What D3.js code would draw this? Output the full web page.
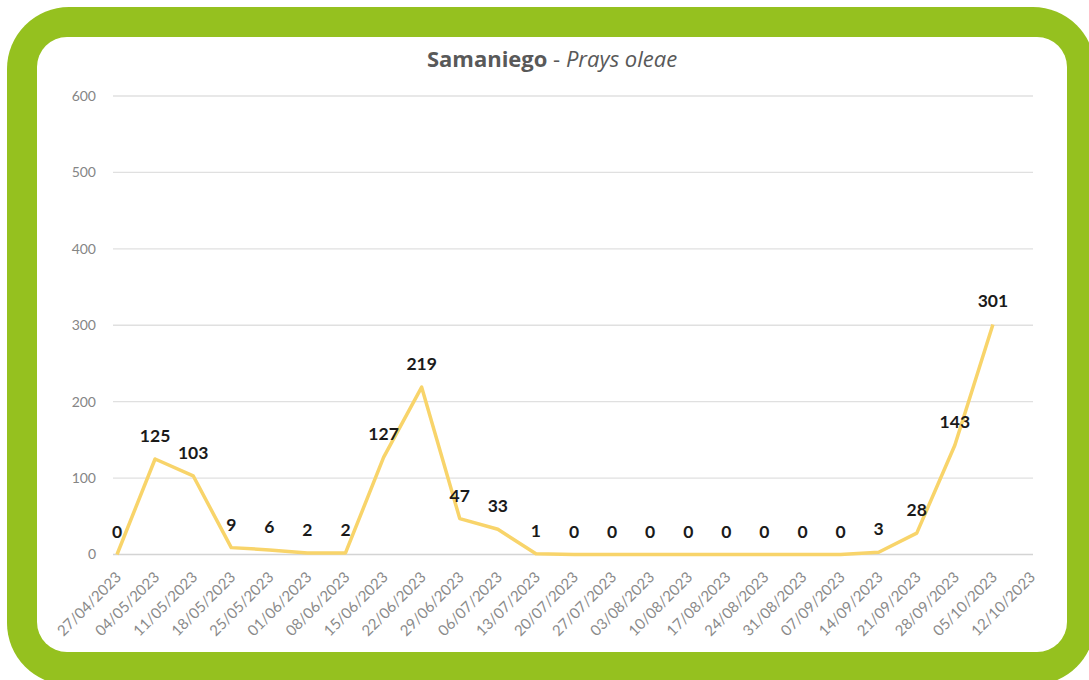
<!DOCTYPE html>
<html>
<head>
<meta charset="utf-8">
<title>Samaniego - Prays oleae</title>
<script src="https://cdnjs.cloudflare.com/ajax/libs/d3/7.8.5/d3.min.js"></script>
<style>
  body { margin: 0; background: #fff; }
  svg { display: block; font-family: Lato, "Open Sans", sans-serif; }
</style>
</head>
<body>
<script>
  // weekly trap counts
  var dates = ["27/04/2023","04/05/2023","11/05/2023","18/05/2023","25/05/2023","01/06/2023",
               "08/06/2023","15/06/2023","22/06/2023","29/06/2023","06/07/2023","13/07/2023",
               "20/07/2023","27/07/2023","03/08/2023","10/08/2023","17/08/2023","24/08/2023",
               "31/08/2023","07/09/2023","14/09/2023","21/09/2023","28/09/2023","05/10/2023",
               "12/10/2023"];
  var counts = [0,125,103,9,6,2,2,127,219,47,33,1,0,0,0,0,0,0,0,0,3,28,143,301,null];
  var yTicks = [0,100,200,300,400,500,600];

  var width = 1089, height = 680;
  var margin = {top: 96, right: 56, bottom: 125, left: 117};

  var svg = d3.select("body").append("svg")
      .attr("width", width)
      .attr("height", height);

  // green frame + white card
  svg.append("rect")
      .attr("x", 7).attr("y", 7)
      .attr("width", 1088).attr("height", 678)
      .attr("rx", 62)
      .attr("fill", "#95c11f");
  svg.append("rect")
      .attr("x", 37).attr("y", 37)
      .attr("width", 1030).attr("height", 615)
      .attr("rx", 30)
      .attr("fill", "#ffffff");

  var x = d3.scalePoint()
      .domain(dates)
      .range([margin.left, width - margin.right - 2]);

  var y = d3.scaleLinear()
      .domain([0, 600])
      .range([height - margin.bottom - 0.5, margin.top]);

  // gridlines
  svg.append("g")
    .selectAll("line")
    .data(yTicks)
    .join("line")
      .attr("x1", 113)
      .attr("x2", 1033)
      .attr("y1", function(d) { return y(d); })
      .attr("y2", function(d) { return y(d); })
      .attr("stroke", function(d) { return d === 0 ? "#d4d4d4" : "#e0e0e0"; })
      .attr("stroke-width", 1.3);

  // y axis labels (no line)
  var yAxis = svg.append("g")
      .attr("transform", "translate(102,0)")
      .call(d3.axisLeft(y).tickValues(yTicks).tickSize(0).tickPadding(6));
  yAxis.select(".domain").remove();
  yAxis.selectAll("text")
      .attr("fill", "#858585")
      .style("font-size", "14px")
      .style("font-family", "Lato, sans-serif");

  // x axis labels rotated
  var xAxis = svg.append("g")
      .attr("transform", "translate(0," + y(0) + ")")
      .call(d3.axisBottom(x).tickSize(0).tickPadding(0));
  xAxis.select(".domain").remove();
  xAxis.selectAll("text")
      .attr("fill", "#8a8a8a")
      .style("font-size", "15px")
      .style("font-family", "Lato, sans-serif")
      .attr("text-anchor", "end")
      .attr("y", 0)
      .attr("dy", "0.35em")
      .attr("transform", "translate(1,20) rotate(-45)");

  // the line
  var line = d3.line()
      .defined(function(d) { return d.v != null; })
      .x(function(d) { return x(d.date); })
      .y(function(d) { return y(d.v); });

  var pts = dates.map(function(d, i) { return {date: d, v: counts[i]}; });

  svg.append("path")
      .datum(pts)
      .attr("fill", "none")
      .attr("stroke", "#f8d46a")
      .attr("stroke-width", 3.5)
      .attr("stroke-linejoin", "round")
      .attr("d", line);

  // value labels
  svg.append("g")
    .selectAll("text")
    .data(pts.filter(function(d) { return d.v != null; }))
    .join("text")
      .attr("x", function(d) { return x(d.date); })
      .attr("y", function(d) { return y(d.v) - 17; })
      .attr("text-anchor", "middle")
      .attr("fill", "#1a1a1a")
      .style("font-size", "17.5px")
      .style("font-weight", "700")
      .text(function(d) { return d.v; });

  // title
  var title = svg.append("text")
      .attr("x", 552)
      .attr("y", 67)
      .attr("text-anchor", "middle")
      .attr("fill", "#595959")
      .style("font-size", "22px")
      .style("font-family", "'Open Sans', sans-serif");
  title.append("tspan").style("font-weight", "700").text("Samaniego");
  title.append("tspan").text(" - ");
  title.append("tspan").style("font-style", "italic").text("Prays oleae");
</script>
</body>
</html>
